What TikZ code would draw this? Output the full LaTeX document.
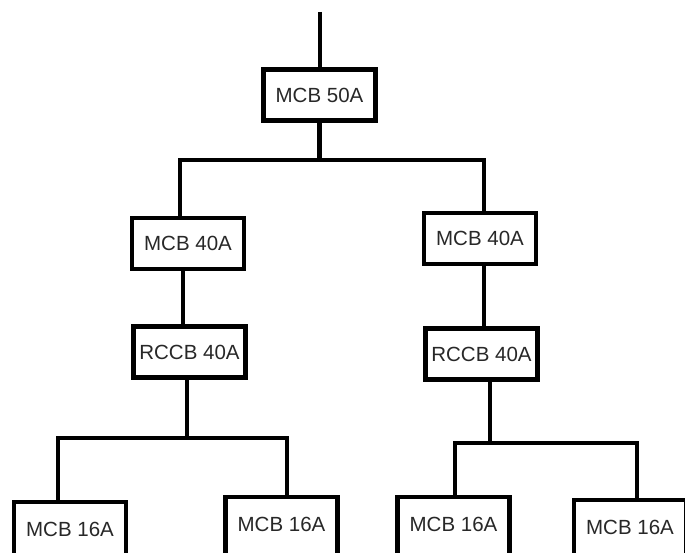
\documentclass[tikz,border=0pt]{standalone}
\usepackage{fontspec}
\setmainfont{Liberation Sans}
\definecolor{textgray}{RGB}{40,40,40}
\begin{document}
\begin{tikzpicture}[x=1pt,y=-1pt,
  box/.style={draw=black, line width=4.5pt, fill=white, minimum width=112pt, minimum height=51pt, inner sep=0pt, font=\fontsize{20.5}{24}\selectfont, text=textgray},
  cutbox/.style={box, minimum height=62pt, text depth=8pt},
  wire/.style={line width=4.5pt, draw=black}]
\path[use as bounding box] (0,0) rectangle (685,553);
\clip (0,0) rectangle (685,553);
% nodes
\node[box] (b50) at (319.5,95) {MCB 50A};
\node[box] (m40l) at (188,243.5) {MCB 40A};
\node[box] (m40r) at (480,238.5) {MCB 40A};
\node[box] (rcl) at (189.5,352) {RCCB 40A};
\node[box] (rcr) at (481.5,354) {RCCB 40A};
\node[cutbox] (l1) at (70,533) {MCB 16A};
\node[cutbox] (l2) at (281.5,528) {MCB 16A};
\node[cutbox] (r1) at (453.5,528) {MCB 16A};
\node[cutbox] (r2) at (630,531) {MCB 16A};
% junction coordinates
\coordinate (feed) at (320,12);
\coordinate (busA) at (319,160);
\coordinate (busL) at (180,160);
\coordinate (busR) at (484,160);
\coordinate (xl) at (183,0);
\coordinate (xr) at (484,0);
\coordinate (stubL) at (187,438);
\coordinate (stubR) at (490,443);
\coordinate (bl1) at (58,438);
\coordinate (bl2) at (287,438);
\coordinate (br1) at (455,443);
\coordinate (br2) at (637,443);
% connectors
\draw[wire] (feed) -- (feed |- b50.north);
\draw[wire] (b50.south) -- (b50.south |- busA);
\draw[wire] (busL |- m40l.north) -- (busL) -- (busR) -- (busR |- m40r.north);
\draw[wire] (xl |- m40l.south) -- (xl |- rcl.north);
\draw[wire] (xr |- m40r.south) -- (xr |- rcr.north);
\draw[wire] (stubL |- rcl.south) -- (stubL);
\draw[wire] (stubR |- rcr.south) -- (stubR);
\draw[wire] (bl1 |- l1.north) -- (bl1) -- (bl2) -- (bl2 |- l2.north);
\draw[wire] (br1 |- r1.north) -- (br1) -- (br2) -- (br2 |- r2.north);
\end{tikzpicture}
\end{document}
